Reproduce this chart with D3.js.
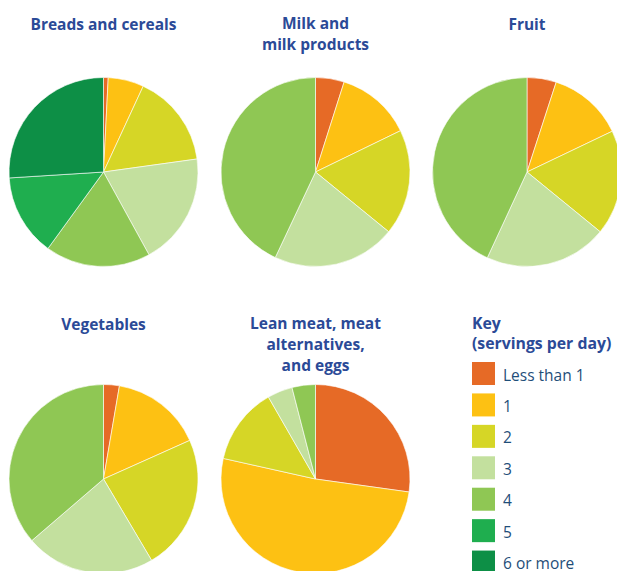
<!DOCTYPE html>
<html>
<head>
<meta charset="utf-8">
<script src="https://cdn.jsdelivr.net/npm/d3@7"></script>
<style>
  html, body { margin: 0; padding: 0; background: #ffffff; }
  svg { display: block; }
</style>
</head>
<body>
<svg id="chart" width="617" height="571"></svg>
<script>
// ---- Data ----
const categories = ["Less than 1", "1", "2", "3", "4", "5", "6 or more"];
const breadsValues     = [0.8, 6.1, 15.9, 19.2, 18.0, 14.0, 26.0];
const milkValues       = [4.9, 12.9, 18.1, 21.1, 43.0];
const fruitValues      = [5.0, 12.9, 18.0, 21.0, 43.1];
const vegetableValues  = [2.7, 15.6, 23.2, 22.2, 36.3];
const meatValues       = [27.2, 51.3, 13.2, 4.3, 4.0];
const pieTitles = [
  ["Breads and cereals"],
  ["Milk and", "milk products"],
  ["Fruit"],
  ["Vegetables"],
  ["Lean meat, meat", "alternatives,", "and eggs"]
];
const keyTitle = ["Key", "(servings per day)"];

// ---- Styles / layout ----
const colors = ["#e66a26", "#fdc113", "#d6d626", "#c3e09e", "#8fc754", "#1fae4f", "#0d8f46"];
const color = d3.scaleOrdinal().domain(categories).range(colors);
const titleColor = "#2b4a97";
const labelColor = "#1f4e79";
const R = 94.5;
const pies = [
  { values: breadsValues,    cx: 103.5, cy: 172,  title: pieTitles[0], ty: 30 },
  { values: milkValues,      cx: 315.5, cy: 172,  title: pieTitles[1], ty: 29 },
  { values: fruitValues,     cx: 527,   cy: 172,  title: pieTitles[2], ty: 30 },
  { values: vegetableValues, cx: 103.5, cy: 479,  title: pieTitles[3], ty: 330 },
  { values: meatValues,      cx: 315.5, cy: 479,  title: pieTitles[4], ty: 329 }
];

const svg = d3.select("#chart");
const pie = d3.pie().sort(null).value(d => d.v);
const arc = d3.arc().innerRadius(0).outerRadius(R);

pies.forEach(p => {
  const data = p.values.map((v, i) => ({ v, cat: categories[i] }));
  const g = svg.append("g").attr("transform", `translate(${p.cx},${p.cy})`);
  g.selectAll("path")
    .data(pie(data))
    .join("path")
    .attr("d", arc)
    .attr("fill", d => color(d.data.cat))
    .attr("stroke", "#ffffff")
    .attr("stroke-width", 0.6)
    .attr("stroke-linejoin", "round");

  const t = svg.append("text")
    .attr("x", p.cx)
    .attr("y", p.ty)
    .attr("text-anchor", "middle")
    .attr("font-family", "'Open Sans', sans-serif")
    .attr("font-weight", "bold")
    .attr("font-size", 15.5)
    .attr("fill", titleColor);
  p.title.forEach((line, i) => {
    t.append("tspan").attr("x", p.cx).attr("dy", i === 0 ? 0 : 21).text(line);
  });
});

// ---- Key ----
const keyX = 472;
const kt = svg.append("text")
  .attr("x", keyX)
  .attr("y", 329)
  .attr("font-family", "'Open Sans', sans-serif")
  .attr("font-weight", "bold")
  .attr("font-size", 15.8)
  .attr("fill", titleColor);
keyTitle.forEach((line, i) => {
  kt.append("tspan").attr("x", keyX).attr("dy", i === 0 ? 0 : 20).text(line);
});

const keyY = d3.scaleBand().domain(categories).range([362, 582]).paddingInner(0);
const items = svg.selectAll("g.key")
  .data(categories)
  .join("g")
  .attr("class", "key")
  .attr("transform", d => `translate(${keyX},${keyY(d)})`);
items.append("rect")
  .attr("width", 23)
  .attr("height", 23)
  .attr("fill", d => color(d));
items.append("text")
  .attr("x", 31)
  .attr("y", 18.5)
  .attr("font-family", "'Open Sans', sans-serif")
  .attr("font-size", 15.5)
  .attr("fill", labelColor)
  .text(d => d);
</script>
</body>
</html>
